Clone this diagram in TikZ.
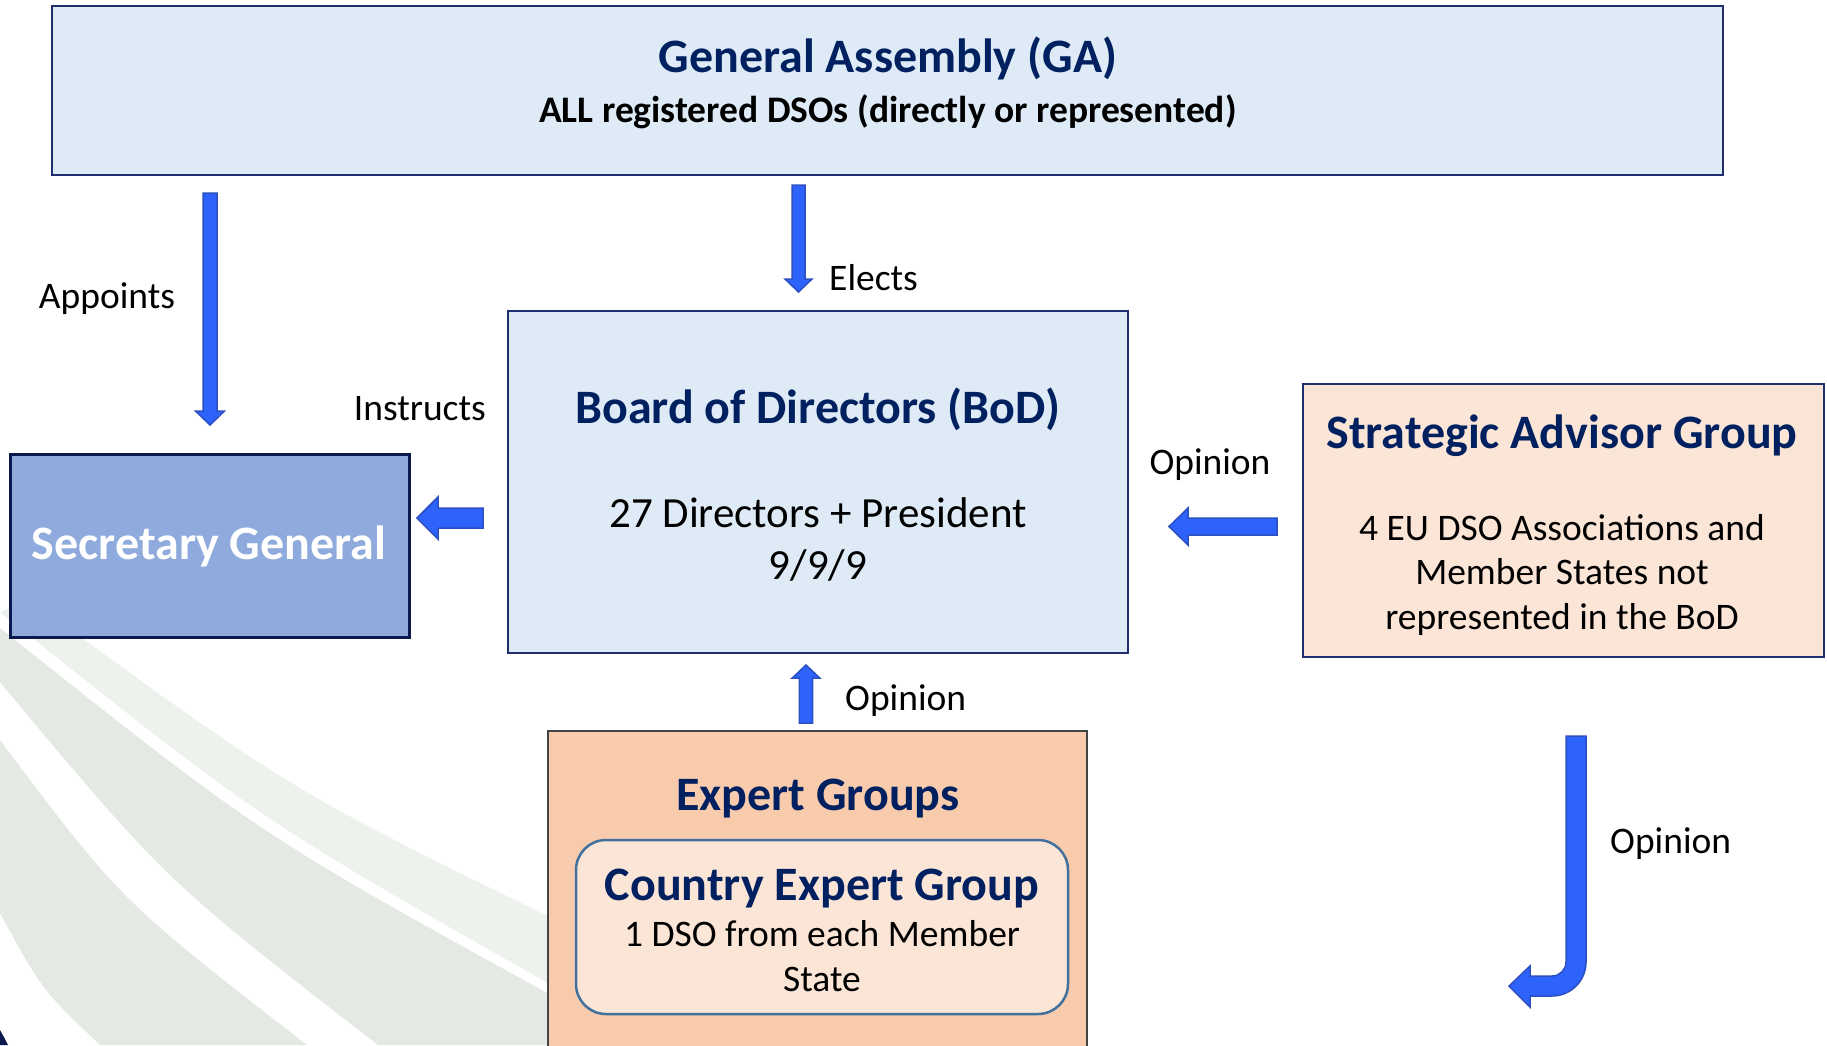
\documentclass[tikz,border=0pt]{standalone}
\usepackage{fontspec}
\setmainfont{Carlito}
\usetikzlibrary{calc}
\definecolor{navy}{HTML}{002060}
\definecolor{boxblue}{HTML}{DEEBF7}
\definecolor{boxedge}{HTML}{1F2F6E}
\definecolor{sgfill}{HTML}{8FAADC}
\definecolor{sgedge}{HTML}{0B1A4E}
\definecolor{peach}{HTML}{FBE5D6}
\definecolor{egfill}{HTML}{F8CBAD}
\definecolor{egedge}{HTML}{444444}
\definecolor{cegedge}{HTML}{41719C}
\definecolor{arrowfill}{HTML}{2E63FB}
\definecolor{arrowedge}{HTML}{2C4FC2}
\definecolor{bandlight}{HTML}{EDF2ED}
\definecolor{banddark}{HTML}{E4EAE3}
\begin{document}
\begin{tikzpicture}[x=1pt,y=-1pt,
  box/.style={draw, rectangle, inner sep=0pt, outer sep=0pt},
  titletext/.style={font=\bfseries\fontsize{48}{58}\selectfont, text=navy, inner sep=0pt, anchor=base},
  bodytext/.style={font=\fontsize{37.5}{45}\selectfont, inner sep=0pt, anchor=base},
  bigbody/.style={font=\fontsize{43}{52}\selectfont, inner sep=0pt, anchor=base},
  labeltext/.style={font=\fontsize{37.5}{45}\selectfont, inner sep=0pt},
  blockarrow/.style={fill=arrowfill, draw=arrowedge, line width=1.5pt, line join=miter}]
\useasboundingbox (0,0) rectangle (1827,1045);
\clip (0,0) rectangle (1827,1045);
% background swooshes
\fill[bandlight] (30,600) .. controls (290,790) .. (560,922) -- (560,990) .. controls (260,820) .. (0,612) -- cycle;
\fill[banddark] (0,628) .. controls (260,835) .. (560,1000) -- (560,1045) -- (378,1045) .. controls (165,880) .. (0,682) -- cycle;
\fill[banddark] (0,740) .. controls (120,900) .. (307,1045) -- (100,1045) .. controls (42,990) .. (0,913) -- cycle;
\fill[sgedge] (0,1030) -- (5,1039) -- (8,1045) -- (0,1045) -- cycle;
% boxes
\node[box, fill=boxblue, draw=boxedge, line width=2pt, minimum width=1671pt, minimum height=169pt] (ga) at (887.5,90.5) {};
\node[box, fill=boxblue, draw=boxedge, line width=1.6pt, minimum width=620pt, minimum height=342pt] (bod) at (818,482) {};
\node[box, fill=sgfill, draw=sgedge, line width=3pt, minimum width=399pt, minimum height=183pt] (sg) at (209.5,545.5) {};
\node[box, fill=peach, draw=boxedge, line width=2pt, minimum width=521pt, minimum height=273pt] (sag) at (1563.5,520.5) {};
\node[box, fill=egfill, draw=egedge, line width=2.5pt, minimum width=539pt, minimum height=339pt] (eg) at (817.5,900.5) {};
\node[box, fill=peach, draw=cegedge, line width=2.5pt, rounded corners=30pt, minimum width=492pt, minimum height=174pt] (ceg) at (822,927) {};
% texts
\node[titletext] (gat) at (888,72) {General Assembly (GA)};
\node[bodytext, font=\bfseries\fontsize{37.5}{45}\selectfont] (gas) at (888,122) {ALL registered DSOs (directly or represented)};
\node[titletext] (bodt) at (818,423) {Board of Directors (BoD)};
\node[bigbody] (bod1) at (818,527) {27 Directors + President};
\node[bigbody] (bod2) at (818,579) {9/9/9};
\node[titletext, text=white] (sgt) at (209,559) {Secretary General};
\node[titletext] (sagt) at (1562,448) {Strategic Advisor Group};
\node[bodytext] (sag1) at (1562,540) {4 EU DSO Associations and};
\node[bodytext] (sag2) at (1562,584) {Member States not};
\node[bodytext] (sag3) at (1562,629) {represented in the BoD};
\node[titletext] (egt) at (818,810) {Expert Groups};
\node[titletext] (cegt) at (822,900) {Country Expert Group};
\node[bodytext] (ceg1) at (822,946) {1 DSO from each Member};
\node[bodytext] (ceg2) at (822,991) {State};
% connector labels
\node[labeltext, anchor=base] (lap) at (107,308) {Appoints};
\node[labeltext, anchor=base west] (lel) at (829,290) {Elects};
\node[labeltext, anchor=base east] (lin) at (486,420) {Instructs};
\node[labeltext, anchor=base] (lop1) at (1210,474) {Opinion};
\node[labeltext, anchor=base west] (lop2) at (845,710) {Opinion};
\node[labeltext, anchor=base west] (lop3) at (1610,853) {Opinion};
% connector end points
\coordinate (apT) at (210,193);
\coordinate (apP) at (210,425);
\coordinate (elT) at (798.5,185);
\coordinate (elP) at (798.5,292);
\coordinate (inT) at (483,518);
\coordinate (inP) at (417,518);
\coordinate (saT) at (1277,526.5);
\coordinate (saP) at (1169,526.5);
\coordinate (egT) at (806,723);
\coordinate (egP) at (806,665);
\coordinate (bs) at (1576,736);
\coordinate (be) at (1509,986);
\coordinate (bc) at (bs|-be);
% GA -> SG (Appoints)
\draw[blockarrow] ($(apT)+(-7,0)$) -- ($(apP)+(-7,-14)$) -- ($(apP)+(-14.5,-14)$) -- (apP) -- ($(apP)+(14.5,-14)$) -- ($(apP)+(7,-14)$) -- ($(apT)+(7,0)$) -- cycle;
% GA -> BoD (Elects)
\draw[blockarrow] ($(elT)+(-6.5,0)$) -- ($(elP)+(-6.5,-13)$) -- ($(elP)+(-13.5,-13)$) -- (elP) -- ($(elP)+(13.5,-13)$) -- ($(elP)+(6.5,-13)$) -- ($(elT)+(6.5,0)$) -- cycle;
% BoD -> SG (Instructs)
\draw[blockarrow] ($(inT)+(0,-10)$) -- ($(inP)+(21,-10)$) -- ($(inP)+(21,-21)$) -- (inP) -- ($(inP)+(21,21)$) -- ($(inP)+(21,10)$) -- ($(inT)+(0,10)$) -- cycle;
% SAG -> BoD (Opinion)
\draw[blockarrow] ($(saT)+(0,-8.5)$) -- ($(saP)+(19,-8.5)$) -- ($(saP)+(19,-18.5)$) -- (saP) -- ($(saP)+(19,18.5)$) -- ($(saP)+(19,8.5)$) -- ($(saT)+(0,8.5)$) -- cycle;
% EG -> BoD (Opinion)
\draw[blockarrow] ($(egT)+(-6.6,0)$) -- ($(egP)+(-6.6,13)$) -- ($(egP)+(-13.75,13)$) -- (egP) -- ($(egP)+(13.75,13)$) -- ($(egP)+(6.6,13)$) -- ($(egT)+(6.6,0)$) -- cycle;
% bent arrow (Opinion)
\draw[blockarrow] ($(bs)+(-10,0)$) -- ($(bc)+(-10,-24)$) .. controls ($(bc)+(-10,-16.3)$) and ($(bc)+(-16.3,-10)$) .. ($(bc)+(-24,-10)$) -- ($(be)+(21,-10)$) -- ($(be)+(21,-20)$) -- (be) -- ($(be)+(21,21)$) -- ($(be)+(21,10)$) -- ($(bc)+(-24,10)$) .. controls ($(bc)+(-5.2,10)$) and ($(bc)+(10,-5.2)$) .. ($(bc)+(10,-24)$) -- ($(bs)+(10,0)$) -- cycle;
\end{tikzpicture}
\end{document}
